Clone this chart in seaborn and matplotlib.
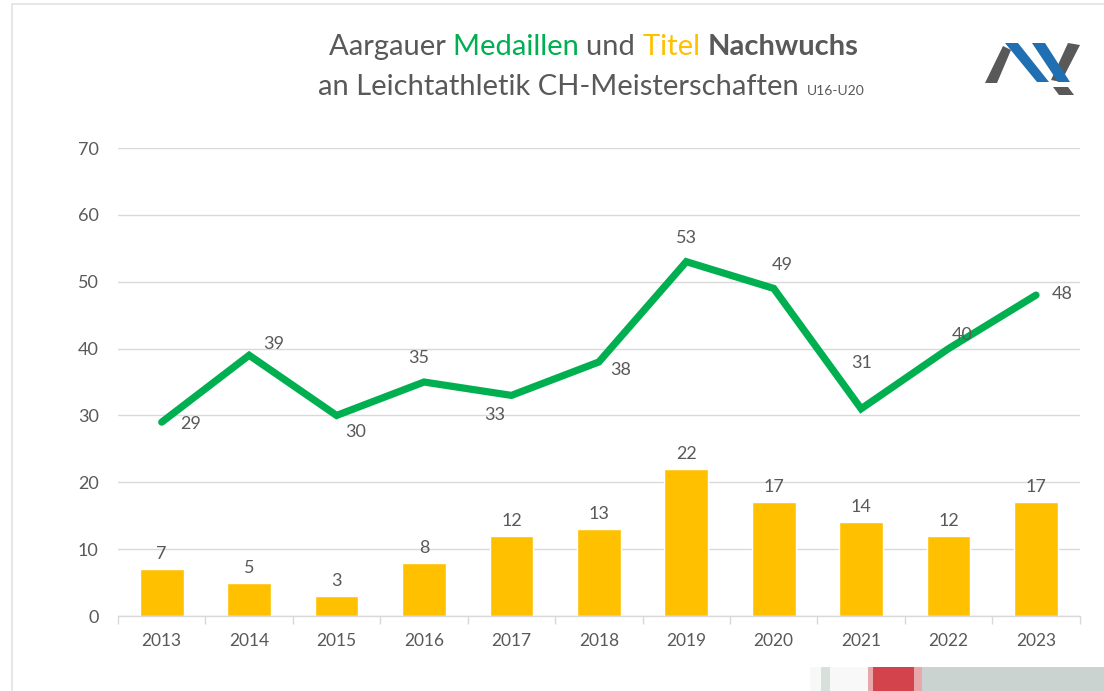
import numpy as np
import matplotlib
matplotlib.use("Agg")
import matplotlib.pyplot as plt
from matplotlib.patches import Polygon, Rectangle
from matplotlib.lines import Line2D
import pandas as pd
import seaborn as sns

# data
years = ["2013", "2014", "2015", "2016", "2017", "2018", "2019", "2020", "2021", "2022", "2023"]
medaillen = [29, 39, 30, 35, 33, 38, 53, 49, 31, 40, 48]
titel = [7, 5, 3, 8, 12, 13, 22, 17, 14, 12, 17]
# label offsets (points) for the line labels, like the Excel placements
line_label_offsets = [(21, -1), (18, 8), (14, -12), (-4, 17), (-12, -14), (16, -6),
                      (0, 17), (6, 17), (0, 33), (10, 10), (19, 1)]

GREEN = "#00B050"
YELLOW = "#FFC000"
TEXT = "#595959"

sns.set_theme(style="white")
plt.rcParams["font.family"] = ["Lato", "DejaVu Sans"]

df = pd.DataFrame({"Jahr": years, "Medaillen": medaillen, "Titel": titel})
df["pos"] = np.arange(len(df))

fig = plt.figure(figsize=(11.04, 6.91), dpi=100)
ax = fig.add_axes([0.1069, 0.1085, 0.8711, 0.6773])

sns.barplot(data=df, x="Jahr", y="Titel", color=YELLOW, width=0.5,
            saturation=1, ax=ax, zorder=2)
sns.lineplot(data=df, x="pos", y="Medaillen", color=GREEN, linewidth=5.2,
             ax=ax, zorder=3, solid_capstyle="round", solid_joinstyle="miter")

ax.bar_label(ax.containers[0], padding=5, fontsize=13, color=TEXT)
for i, v in enumerate(medaillen):
    dx, dy = line_label_offsets[i]
    ax.annotate(str(v), (i, v), xytext=(dx, dy), textcoords="offset points",
                ha="center", va="center", fontsize=13, color=TEXT, zorder=4)

ax.set_xlim(-0.5, 10.5)
ax.set_ylim(0, 70)
ax.set_yticks(range(0, 71, 10))
ax.yaxis.grid(True, color="#d9d9d9", linewidth=1)
ax.set_axisbelow(True)
ax.set_xlabel("")
ax.set_ylabel("")
for s in ["top", "right", "left"]:
    ax.spines[s].set_visible(False)
ax.spines["bottom"].set_color("#d9d9d9")
ax.spines["bottom"].set_linewidth(1)
ax.tick_params(axis="y", length=0, labelsize=13, labelcolor=TEXT, pad=14)
ax.tick_params(axis="x", which="major", length=0, labelsize=12.5, labelcolor=TEXT, pad=12)
ax.set_xticks(np.arange(-0.5, 11, 1), minor=True)
ax.tick_params(axis="x", which="minor", length=6, color="#d9d9d9", width=1, bottom=True)

# title in coloured pieces
fig.canvas.draw()
renderer = fig.canvas.get_renderer()


def colored_line(pieces, y, center_x):
    texts = []
    for s, c, w, size in pieces:
        t = fig.text(0, y, s, color=c, fontweight=w, fontsize=size,
                     ha="left", va="baseline")
        texts.append(t)
    widths = [t.get_window_extent(renderer).width / fig.bbox.width for t in texts]
    total = sum(widths)
    x = center_x - total / 2
    for t, w in zip(texts, widths):
        t.set_x(x)
        x += w


colored_line([("Aargauer ", TEXT, "normal", 21), ("Medaillen ", GREEN, "normal", 21),
              ("und ", TEXT, "normal", 21), ("Titel ", YELLOW, "normal", 21),
              ("Nachwuchs", TEXT, "bold", 21)], 1 - 55 / 691, 0.5375)
colored_line([("an Leichtathletik CH-Meisterschaften ", TEXT, "normal", 21),
              ("U16-U20", TEXT, "normal", 10)], 1 - 95 / 691, 0.5355)

# logo (small overlay axes in pixel coordinates)
lax = fig.add_axes([980 / 1104, 1 - 100 / 691, 105 / 1104, 62 / 691])
lax.set_xlim(980, 1085)
lax.set_ylim(100, 38)
lax.axis("off")

LOGO_GRAY = "#595959"
LOGO_BLUE = "#1f6fb2"
logo_shapes = [
    ([(985, 83), (997, 83), (1011, 50), (1003, 46)], LOGO_GRAY),
    ([(1068, 43), (1080, 45), (1061, 82), (1051, 80)], LOGO_GRAY),
    ([(1053, 87), (1068, 87), (1074, 95), (1059, 95)], LOGO_GRAY),
    ([(1005, 43), (1018, 43), (1049, 82), (1037, 82)], LOGO_BLUE),
    ([(1032, 43), (1045, 43), (1070, 82), (1058, 82)], LOGO_BLUE),
]
for pts, col in logo_shapes:
    lax.add_patch(Polygon(pts, closed=True, facecolor=col, edgecolor="none"))

# frame lines
fig.lines.append(Line2D([12 / 1104, 12 / 1104], [0, 1 - 4 / 691], color="#e3e3e3",
                        linewidth=1.2, transform=fig.transFigure))
fig.lines.append(Line2D([12 / 1104, 1], [1 - 4 / 691, 1 - 4 / 691], color="#e3e3e3",
                        linewidth=1.2, transform=fig.transFigure))

# cropped photo strip bottom right


def frect(x0, x1, color):
    fig.patches.append(Rectangle((x0 / 1104, 0), (x1 - x0) / 1104, 24 / 691,
                                 facecolor=color, edgecolor="none",
                                 transform=fig.transFigure))


frect(810, 1104, "#f7f8f7")
frect(821, 830, "#d8e0db")
frect(868, 922, "#e8a8ab")
frect(873, 914, "#d2434b")
frect(922, 1104, "#cbd3d0")

fig.savefig("out.png", dpi=100, facecolor="white")
